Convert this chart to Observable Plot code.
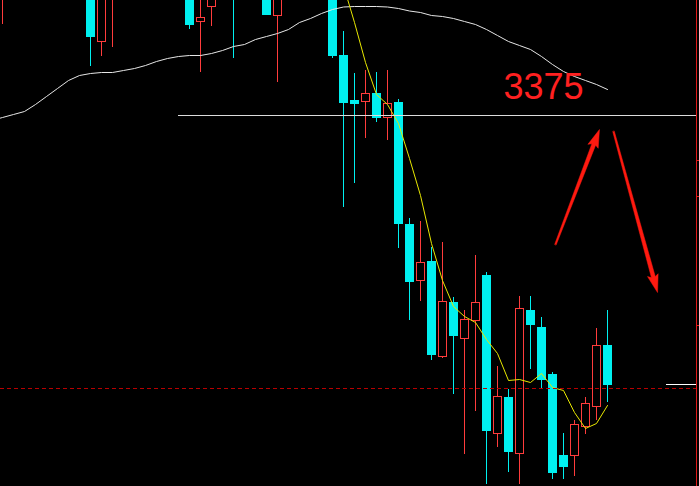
<!DOCTYPE html>
<html>
<head>
<meta charset="utf-8">
<script src="https://cdn.jsdelivr.net/npm/d3@7"></script>
<script src="https://cdn.jsdelivr.net/npm/@observablehq/plot@0.6"></script>
<style>
  html, body { margin: 0; padding: 0; background: #000; }
  #chart { width: 699px; height: 486px; overflow: hidden; background: #000; }
  #chart svg { overflow: hidden; display: block; }
</style>
</head>
<body>
<div id="chart"></div>
<script>
// Candle index (bar number), open, high, low, close
const candleIdx   = [-8, 0, 1, 2, 9, 10, 11, 13, 16, 17, 22, 23, 24, 25, 26, 27, 28, 29, 30, 31, 32, 33, 34, 35, 36, 37, 38, 39, 40, 41, 42, 43, 44, 45, 46, 47];
const candleOpen  = [3492, 3510, 3448, 3493, 3505, 3468, 3483, 3520, 3510, 3474, 3500, 3435, 3390, 3388, 3397, 3372, 3388, 3266, 3209, 3229, 3133, 3188, 3151, 3169, 3215, 3056, 3093, 3036, 3180, 3163, 3116, 3035, 3034, 3063, 3083, 3145];
const candleHigh  = [3530, 3520, 3515, 3540, 3515, 3500, 3505, 3525, 3515, 3510, 3510, 3459, 3417, 3420, 3418, 3420, 3391, 3272, 3269, 3243, 3248, 3193, 3180, 3235, 3218, 3124, 3101, 3194, 3194, 3173, 3118, 3057, 3070, 3093, 3162, 3180];
const candleLow   = [3466, 3424, 3434, 3443, 3461, 3418, 3464, 3432, 3475, 3408, 3432, 3283, 3307, 3352, 3368, 3350, 3242, 3170, 3189, 3130, 3132, 3096, 3036, 3079, 3006, 3043, 3018, 3006, 3121, 3102, 3011, 3011, 3014, 3056, 3070, 3088];
const candleClose = [3510, 3453, 3500, 3530, 3465, 3473, 3495, 3493, 3475, 3500, 3434, 3387, 3386, 3397, 3372, 3387, 3266, 3208, 3228, 3135, 3189, 3154, 3171, 3188, 3059, 3094, 3038, 3182, 3165, 3110, 3017, 3023, 3066, 3087, 3145, 3105];

// Long moving average (white)
const maLongIdx = d3.range(-9, 48);
const maLongVal = [3370, 3373, 3376, 3379, 3386, 3394, 3402, 3410, 3415, 3417, 3418, 3418, 3420, 3422, 3425, 3429, 3432, 3434, 3435, 3435, 3437, 3440, 3444, 3446, 3451, 3454, 3457, 3461, 3468, 3472, 3477, 3481, 3483.5, 3484, 3484, 3484, 3483.5, 3482, 3479.5, 3478, 3475, 3474, 3472, 3469, 3466, 3461, 3455, 3449, 3445, 3441, 3434, 3426, 3419, 3414, 3410, 3406, 3401];

// Short moving average (yellow)
const maShortIdx = d3.range(21, 48);
const maShortVal = [3590, 3540, 3505, 3468, 3428, 3396, 3386, 3367, 3332, 3295, 3247, 3210, 3184, 3174, 3168, 3151, 3137, 3110, 3111, 3108, 3117, 3103, 3100, 3078, 3062, 3067, 3085];

// Annotations
const levelPrice = 3375;        // white resistance line
const levelLabel = "3375";
const lastPrice = 3102;         // red dashed current price line
const lastMark = 3106;          // short white marker
const axisTicks = [3330, 3294, 3165];
const arrowFrom = [[42.27, 3246], [47.55, 3359]];
const arrowTo   = [[46.27, 3361], [51.55, 3198]];

const xMin = -90 / 11, xMax = 609 / 11, axisX = 606 / 11;
const W = 699, H = 486, yLo = 3004, yHi = 3490;

const candles = candleIdx.map((k, i) => ({
  k, open: candleOpen[i], high: candleHigh[i], low: candleLow[i], close: candleClose[i],
  up: candleClose[i] > candleOpen[i]
}));
const upC = candles.filter(d => d.up);
const downC = candles.filter(d => !d.up);
const maLong = maLongIdx.map((k, i) => ({k, v: maLongVal[i]}));
const maShort = maShortIdx.map((k, i) => ({k, v: maShortVal[i]}));

// tapered arrow polygons, built in screen units from the annotation endpoints
const sx = d3.scaleLinear([xMin, xMax], [0, W]);
const sy = d3.scaleLinear([yLo, yHi], [H, 0]);
const arrowPolys = [];
arrowFrom.forEach((a, i) => {
  const x0 = sx(a[0]), y0 = sy(a[1]), x1 = sx(arrowTo[i][0]), y1 = sy(arrowTo[i][1]);
  const L = Math.hypot(x1 - x0, y1 - y0), ux = (x1 - x0) / L, uy = (y1 - y0) / L, nx = -uy, ny = ux;
  const headL = 16, headW = 5.5, tailW = 0.8, neckW = 2;
  const bx = x1 - ux * headL, by = y1 - uy * headL;
  const nx2 = x1 - ux * (headL - 4), ny2 = y1 - uy * (headL - 4);
  const pts = [
    [x0 + nx * tailW, y0 + ny * tailW],
    [bx + nx * neckW, by + ny * neckW],
    [bx - ux * 2 + nx * headW, by - uy * 2 + ny * headW],
    [x1, y1],
    [bx - ux * 2 - nx * headW, by - uy * 2 - ny * headW],
    [bx - nx * neckW, by - ny * neckW],
    [x0 - nx * tailW, y0 - ny * tailW]
  ];
  pts.forEach((p, j) => arrowPolys.push({id: i, j, k: sx.invert(p[0]), v: sy.invert(p[1])}));
});

const CYAN = "#00f0f0", RED = "#ff3c3c";
const hw = 4.5 / 11;

const chart = Plot.plot({
  width: W,
  height: H,
  margin: 0,
  style: {background: "#000", overflow: "hidden"},
  x: {domain: [xMin, xMax], axis: null},
  y: {domain: [yLo, yHi], axis: null},
  marks: [
    // wicks
    Plot.ruleX(candles, {x: "k", y1: "low", y2: "high", stroke: d => d.up ? RED : CYAN, strokeWidth: 1}),
    // down candles (filled cyan)
    Plot.rect(downC, {x1: d => d.k - hw, x2: d => d.k + hw, y1: "open", y2: "close", fill: CYAN, shapeRendering: "crispEdges"}),
    // up candles (hollow red)
    Plot.rect(upC, {x1: d => d.k - hw, x2: d => d.k + hw, y1: "open", y2: "close", fill: "#000", stroke: RED, strokeWidth: 1, inset: 0.5, shapeRendering: "crispEdges"}),
    // moving averages
    Plot.line(maLong, {x: "k", y: "v", stroke: "#e6e6e6", strokeWidth: 1}),
    Plot.line(maShort, {x: "k", y: "v", stroke: "#e8e800", strokeWidth: 1}),
    // level lines
    Plot.ruleY([levelPrice], {x1: 8, x2: axisX, stroke: "#dcdcdc", strokeWidth: 1}),
    Plot.ruleY([lastPrice], {x1: xMin, x2: axisX, stroke: "#b80000", strokeWidth: 1, strokeDasharray: "4,3"}),
    Plot.ruleY([lastMark], {x1: (666 - 90) / 11, x2: axisX, stroke: "#ffffff", strokeWidth: 1}),
    // right price axis border
    Plot.ruleX([axisX], {stroke: "#e01818", strokeWidth: 1}),
    Plot.ruleY(axisTicks, {x1: axisX, x2: xMax, stroke: "#e01818", strokeWidth: 1}),
    // annotations
    Plot.text([levelLabel], {x: 37.55, y: 3392, text: d => d, fill: "#ff2020", fontSize: 36, fontFamily: "Liberation Sans", textAnchor: "start", lineAnchor: "bottom"}),
    Plot.line(arrowPolys, {x: "k", y: "v", z: "id", fill: "#ff1a10", stroke: "#ff1a10", strokeWidth: 0.5, curve: "linear-closed"})
  ]
});
document.getElementById("chart").appendChild(chart);
</script>
</body>
</html>
